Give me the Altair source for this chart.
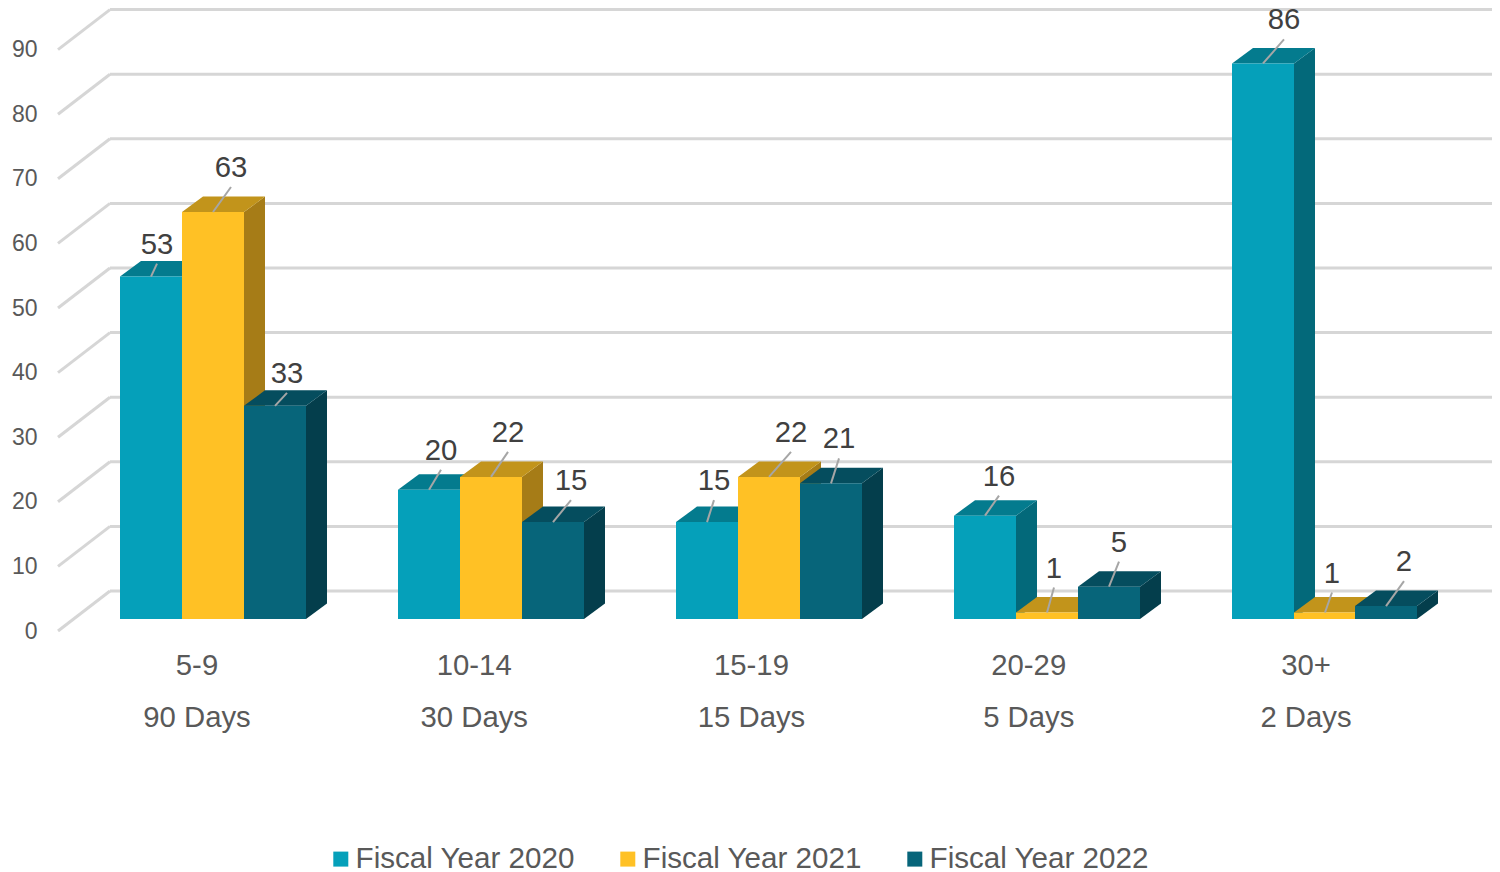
import altair as alt
import pandas as pd

groups = ["5-9", "10-14", "15-19", "20-29", "30+"]
days = ["90 Days", "30 Days", "15 Days", "5 Days", "2 Days"]
series = ["Fiscal Year 2020", "Fiscal Year 2021", "Fiscal Year 2022"]
fy2020 = [53, 20, 15, 16, 86]
fy2021 = [63, 22, 22, 1, 1]
fy2022 = [33, 15, 21, 5, 2]
ticks = [0, 10, 20, 30, 40, 50, 60, 70, 80, 90]

front = ["#05A0BA", "#FFC125", "#07657A"]
top = ["#047B8E", "#C2941B", "#054D5E"]
side = ["#03697A", "#A67C17", "#043E4C"]

# label offsets from the centre of each bar's front top edge (px)
label_dx = [[6, 12, 7, 14, 21], [18, 17, 22, 7, 7], [12, 18, 8, 10, 18]]
label_dy = [[-33, -40, -42, -40, -44], [-45, -45, -45, -45, -40], [-33, -42, -45, -45, -45]]

W, H = 1484, 864
PX = 6.46          # px per value unit
Y0 = 631           # page y of value 0 on the axis plane


def v_of(page_y):
    return (Y0 - page_y) / PX


BASE = v_of(619)
BAR_DY = 15.5 / PX
BAR_DX = 21
BAR_W = 62
WALL_DY = 40 / PX

xs = alt.Scale(domain=[8, 8 + W], nice=False, zero=False)
ys = alt.Scale(domain=[v_of(8 + H), v_of(8)], nice=False, zero=False)
X = lambda f: alt.X(f"{f}:Q", scale=xs, axis=None)
Y = lambda f: alt.Y(f"{f}:Q", scale=ys, axis=None)

values = [fy2020, fy2021, fy2022]
bars, side_rows, top_rows, labels, leaders = [], [], [], [], []
for s, name in enumerate(series):
    for g in range(len(groups)):
        v = values[s][g]
        l = 120 + 278 * g + BAR_W * s - (1 if s == 2 and g > 3 else 0)
        r = l + BAR_W
        t = v + BASE
        key = f"{s}-{g}"
        bars.append(dict(series=name, l=l, r=r, y0=BASE, y1=t))
        side_rows += [
            dict(s=s, key=key, x=r, y0=BASE, y1=t),
            dict(s=s, key=key, x=r + BAR_DX, y0=BASE + BAR_DY, y1=t + BAR_DY),
        ]
        top_rows += [
            dict(s=s, key=key, y=t, x0=l, x1=r),
            dict(s=s, key=key, y=t + BAR_DY, x0=l + BAR_DX, x1=r + BAR_DX),
        ]
        cx = (l + r) / 2
        lx = cx + label_dx[s][g]
        ly = 631 - t * PX + label_dy[s][g]
        labels.append(dict(text=str(v), x=lx, y=v_of(ly + 1)))
        leaders.append(dict(x=cx, x2=lx, y=t, y2=v_of(ly + 20)))

bars = pd.DataFrame(bars)
side_rows = pd.DataFrame(side_rows)
top_rows = pd.DataFrame(top_rows)
labels = pd.DataFrame(labels)
leaders = pd.DataFrame(leaders)

grid = pd.DataFrame({"v": ticks})
grid["back"] = grid.v + WALL_DY
grid["x0"] = 58
grid["x1"] = 110
grid["x2"] = 8 + W

GRID = "#D6D6D6"
layers = [
    alt.Chart(grid).mark_rule(color=GRID, strokeWidth=3).encode(
        x=X("x0"), x2="x1:Q",
        y=alt.Y("v:Q", scale=ys, axis=alt.Axis(
            values=ticks, orient="left", offset=-29, domain=False, ticks=False, grid=False,
            title=None, labelFont="Liberation Sans", labelFontSize=23, labelColor="#595959",
            labelPadding=0, labelAlign="right", labelBaseline="middle")),
        y2="back:Q"),
    alt.Chart(grid).mark_rule(color=GRID, strokeWidth=3).encode(
        x=X("x1"), x2="x2:Q", y=Y("back"))
]

color = alt.Color("series:N", scale=alt.Scale(domain=series, range=front), legend=alt.Legend(
    title=None, orient="none", direction="horizontal", legendX=318, legendY=836,
    symbolType="square", symbolSize=225, symbolStrokeWidth=0, labelFont="Liberation Sans",
    labelFontSize=29.6, labelColor="#595959", labelOffset=0, columnPadding=38, padding=0,
    labelLimit=400))

for s, name in enumerate(series):
    layers.append(alt.Chart(side_rows).transform_filter(f"datum.s == {s}").mark_area(
        color=side[s]).encode(x=X("x"), y=Y("y0"), y2="y1:Q", detail="key:N"))
    layers.append(alt.Chart(top_rows).transform_filter(f"datum.s == {s}").mark_area(
        color=top[s], orient="horizontal").encode(y=Y("y"), x=X("x0"), x2="x1:Q", detail="key:N"))
    layers.append(alt.Chart(bars).transform_filter(alt.datum.series == name).mark_rect().encode(
        x=X("l"), x2="r:Q", y=Y("y0"), y2="y1:Q", color=color))

layers.append(alt.Chart(leaders).mark_rule(color="#A6A6A6", strokeWidth=2).encode(
    x=X("x"), x2="x2:Q", y=Y("y"), y2="y2:Q"))
layers.append(alt.Chart(labels).mark_text(
    font="Liberation Sans", fontSize=29.3, color="#404040", align="center", baseline="middle").encode(
    x=X("x"), y=Y("y"), text="text:N"))

cats = pd.DataFrame({"group": groups, "days": days})
cats["x"] = [197 + 277.25 * i for i in range(len(groups))]
cats["y1"] = v_of(666)
cats["y2"] = v_of(718)
for fld, yf in (("group", "y1"), ("days", "y2")):
    layers.append(alt.Chart(cats).mark_text(
        font="Liberation Sans", fontSize=29.3, color="#595959", align="center", baseline="middle").encode(
        x=X("x"), y=Y(yf), text=f"{fld}:N"))

chart = alt.layer(*layers).resolve_axis(y="independent", x="independent").properties(
    width=W, height=H, padding=0, autosize=alt.AutoSizeParams(type="none")
).configure_view(stroke=None)

chart.save("out.html", embed_options={"renderer": "svg", "actions": False})
